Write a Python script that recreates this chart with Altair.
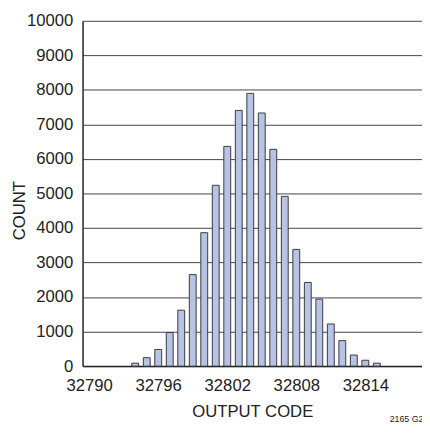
import altair as alt
import pandas as pd

codes = list(range(32794, 32816))
counts = [85, 244, 483, 974, 1619, 2650, 3863, 5236, 6363, 7404, 7898,
          7330, 6278, 4915, 3380, 2423, 1940, 1221, 738, 321, 170, 85]
x_ticks = [32790, 32796, 32802, 32808, 32814]
y_ticks = list(range(0, 10001, 1000))

df = pd.DataFrame({"code": codes, "count": counts})

FONT = "Liberation Sans, Arial, sans-serif"
W, H = 346, 352

bars = alt.Chart(df).mark_bar(
    size=7, color="#b6c3e4", stroke="#3a3a3a", strokeWidth=1
).encode(
    x=alt.X("code:Q",
            scale=alt.Scale(domain=[32789.85, 32818.5], nice=False, zero=False),
            axis=alt.Axis(values=x_ticks, title="OUTPUT CODE", grid=False,
                          ticks=False, labelPadding=12, titlePadding=10,
                          format="d", labelFlush=False)),
    y=alt.Y("count:Q",
            scale=alt.Scale(domain=[0, 10000], nice=False),
            axis=alt.Axis(values=y_ticks, title="COUNT", grid=True,
                          ticks=False, labelPadding=10, format="d",
                          titleX=-64, titleY=193, titleAngle=270,
                          titleAlign="center", titleBaseline="middle")),
)

note = alt.Chart(pd.DataFrame({"t": ["2165 G2"]})).mark_text(
    align="left", baseline="middle", fontSize=9, font=FONT, color="#222"
).encode(x=alt.value(313), y=alt.value(406), text="t:N")

chart = alt.layer(bars, note).properties(
    width=W, height=H,
    autosize=alt.AutoSizeParams(type="none"),
    padding={"left": 76, "top": 9, "right": 0, "bottom": 57},
).configure_view(stroke=None).configure_axis(
    labelFont=FONT, titleFont=FONT, labelFontSize=17, titleFontSize=17,
    labelColor="#222", titleColor="#222", titleFontWeight="normal",
    domainColor="#222", domainWidth=1.5,
    gridColor="#444", gridWidth=1, gridOpacity=1,
)

chart.save("out.html", embed_options={"renderer": "svg", "actions": False})
